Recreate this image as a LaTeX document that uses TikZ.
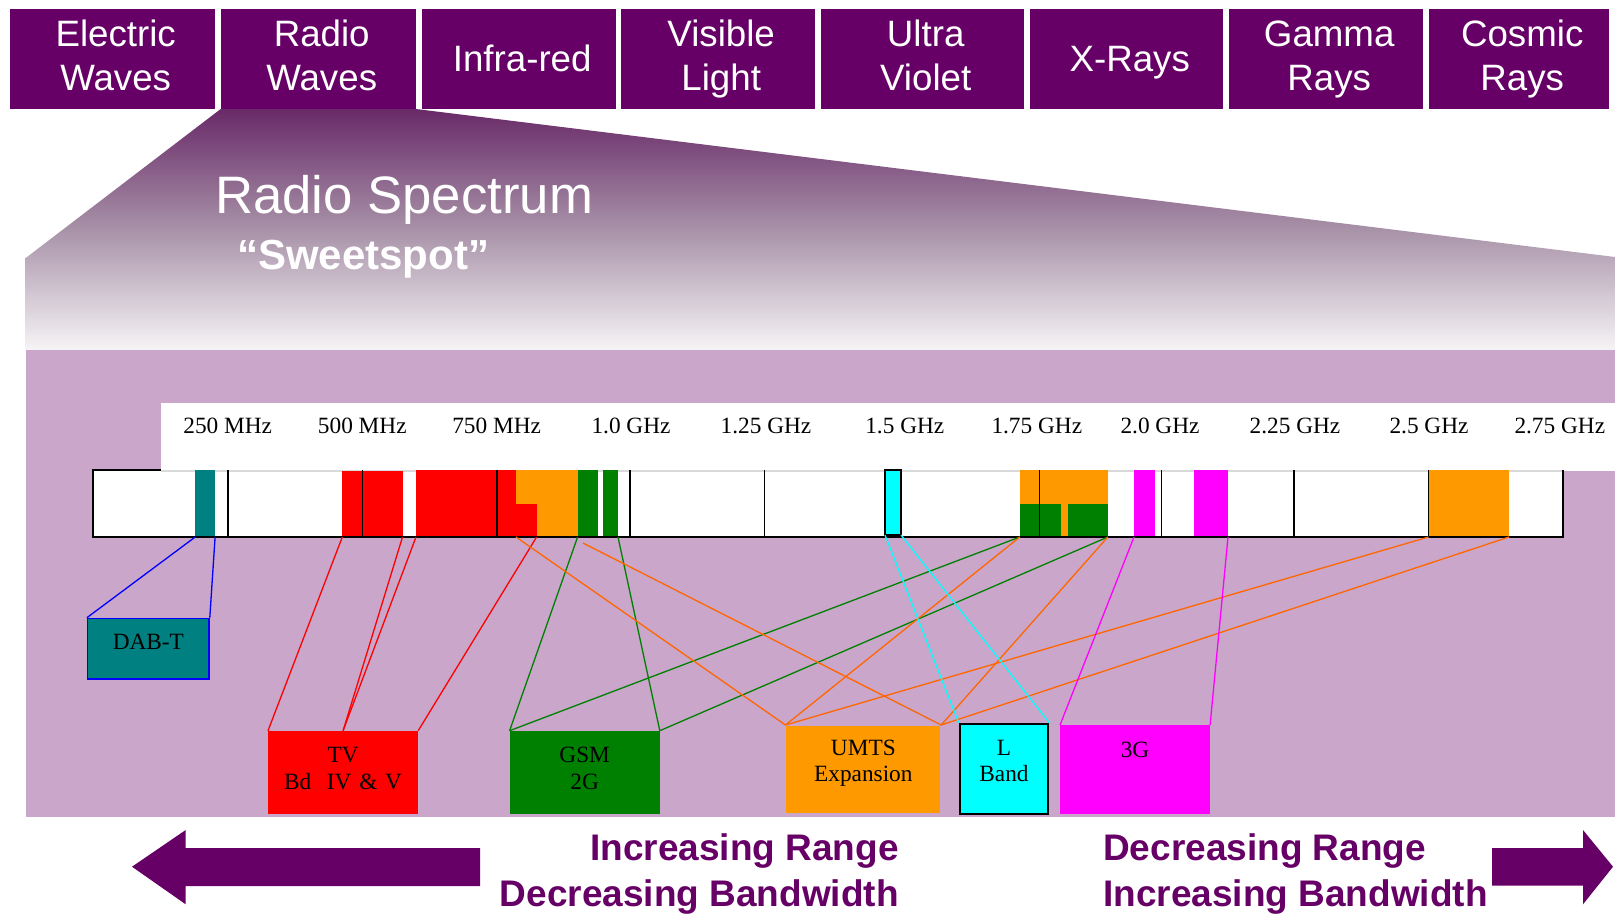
\documentclass[tikz,border=0pt]{standalone}
\usepackage{fontspec}
\setmainfont{Liberation Serif}
\setsansfont{Liberation Sans}

\definecolor{specpurple}{RGB}{102,0,102}
\definecolor{bandlilac}{RGB}{202,166,202}
\definecolor{gradtop}{RGB}{104,42,104}
\definecolor{gradmid}{RGB}{168,146,168}
\definecolor{gradbot}{RGB}{246,244,246}
\definecolor{dabteal}{RGB}{0,128,128}
\definecolor{umtsorange}{RGB}{255,153,0}
\definecolor{lineorange}{RGB}{255,102,0}
\definecolor{gsmgreen}{RGB}{0,128,0}
\definecolor{tvred}{RGB}{255,0,0}
\definecolor{dabblue}{RGB}{0,0,255}
\definecolor{lbandcyan}{RGB}{0,255,255}
\definecolor{tgmagenta}{RGB}{255,0,255}

\tikzset{
	catbox/.style={rectangle, fill=specpurple, inner sep=0pt, anchor=north west, minimum height=100pt},
	cattext/.style={anchor=base, inner sep=0pt, xshift=3pt, text=white, font=\sffamily\fontsize{36.7}{44}\selectfont},
	freqlabel/.style={anchor=base, inner sep=0pt, font=\fontsize{23.3}{27}\selectfont},
	bandbox/.style={rectangle, inner sep=0pt, anchor=north west, line width=1.5pt},
	boxtext/.style={anchor=base, align=center, inner sep=0pt, font=\fontsize{23.3}{26.5}\selectfont},
	link/.style={line width=1.3pt},
	tick/.style={line width=1.8pt},
	rangetext/.style={inner sep=0pt, text=specpurple, font=\sffamily\bfseries\fontsize{37}{46}\selectfont},
}

\begin{document}
\begin{tikzpicture}[x=1pt, y=-1pt]

		\useasboundingbox (0,0) rectangle (1615,914);
		\fill[white] (0,0) rectangle (1615,914);

		% spectre electromagnetique
		\foreach \nm/\xl/\xr in {elec/10/215, radio/221/416, infra/422/616, vis/621/815, uv/821/1024, xray/1030/1223, gamma/1229/1423, cosmic/1429/1609}
			\node[catbox, minimum width={(\xr-\xl)*1pt}] (\nm) at (\xl,9) {};

		\foreach \nm/\la/\lb in {elec/Electric/Waves, radio/Radio/Waves, vis/Visible/Light, uv/Ultra/Violet, gamma/Gamma/Rays, cosmic/Cosmic/Rays} {
			\node[cattext] (\nm-a) at ([yshift=-37.7pt]\nm.north) {\la};
			\node[cattext] (\nm-b) at ([yshift=-81.7pt]\nm.north) {\lb};
		}
		\node[cattext] (infra-a) at ([yshift=-62.5pt]infra.north) {Infra-red};
		\node[cattext] (xray-a) at ([yshift=-62.5pt]xray.north) {X-Rays};

		% zoom sur les ondes radio
		\shade[top color=gradtop, bottom color=gradbot, middle color=gradmid]
			(220.7,109) -- (416,109) -- (1615,257) -- (1615,350)
			-- (25.7,350) -- (25.7,258) -- cycle;

		\node[anchor=base west, inner sep=0pt, text=white, font=\sffamily\fontsize{52.7}{60}\selectfont] (spec) at (215,213) {Radio Spectrum};
		\node[anchor=base west, inner sep=0pt, text=white, font=\sffamily\bfseries\fontsize{42}{48}\selectfont] (sweet) at (237,269) {“Sweetspot”};

		\fill[bandlilac] (25.7,350) rectangle (1615,816.7);

		% echelle des frequences
		\fill[white] (161,403) rectangle (1615,471);
		\foreach \x/\lab [count=\i] in {227.7/250 MHz, 362.3/500 MHz, 496.6/750 MHz, 631/1.0 GHz, 766/1.25 GHz, 904.8/1.5 GHz, 1036.8/1.75 GHz, 1160/2.0 GHz, 1295/2.25 GHz, 1429/2.5 GHz, 1559.8/2.75 GHz}
			\node[freqlabel] (freq\i) at (\x,433.3) {\lab};

		\fill[white] (93.4,470) rectangle (1563,537);
		\draw[gray!30, line width=1.2pt] (161,471) -- (1563,471);

		% bandes occupees
		\fill[dabteal] (195.2,470) rectangle (215.1,537);
		\fill[tvred] (342.2,471) rectangle (402.6,537);
		\fill[tvred] (416,470) rectangle (515.5,537);
		\fill[tvred] (515.5,504) rectangle (536.6,537);
		\fill[umtsorange] (515.5,470) rectangle (577.5,504);
		\fill[umtsorange] (536.6,470) rectangle (577.5,537);
		\fill[gsmgreen] (577.5,470) rectangle (597.8,537);
		\fill[gsmgreen] (603.2,470) rectangle (618.1,537);
		\fill[umtsorange] (1019.8,470) rectangle (1107.8,537);
		\fill[gsmgreen] (1019.8,504) rectangle (1061,537);
		\fill[gsmgreen] (1067.8,504) rectangle (1107.8,537);
		\fill[tgmagenta] (1133.7,470) rectangle (1155.2,537);
		\fill[tgmagenta] (1194,470) rectangle (1227.8,537);
		\fill[umtsorange] (1428.5,470) rectangle (1509,537);

		\foreach \x in {227.7, 362.4, 496.8, 630.3, 764.5, 1039.5, 1161.4, 1294.3, 1428.5}
			\draw[tick] (\x,470) -- (\x,537);

		\filldraw[fill=lbandcyan, draw=black, line width=1.5pt] (885,470) rectangle (901,535);

		\draw[line width=2pt] (161,470) -- (93.4,470) -- (93.4,537) -- (1563,537) -- (1563,470);

		% extremites des liaisons
		\coordinate (dabL) at (195.2,537);
		\coordinate (dabR) at (215.1,537);
		\coordinate (tvA) at (342.3,537);
		\coordinate (tvB) at (402.5,537);
		\coordinate (tvC) at (416,537);
		\coordinate (tvD) at (536.6,537);
		\coordinate (gsmA) at (577.6,537);
		\coordinate (gsmB) at (618,537);
		\coordinate (gsmC) at (1019.8,537);
		\coordinate (gsmD) at (1107.8,537);
		\coordinate (umtsA) at (516,537);
		\coordinate (umtsB) at (583,543);
		\coordinate (umtsC) at (1019.8,537);
		\coordinate (umtsD) at (1107.8,537);
		\coordinate (umtsE) at (1428.5,537);
		\coordinate (umtsF) at (1509,537);
		\coordinate (lbA) at (885,535);
		\coordinate (lbB) at (901,535);
		\coordinate (tgA) at (1134,537);
		\coordinate (tgB) at (1228,537);

		% boites des services
		\node[bandbox, fill=dabteal, draw=dabblue, minimum width=121.4pt, minimum height=60.3pt] (dab) at (86.9,617.7) {};
		\node[bandbox, fill=tvred, draw=tvred, minimum width=148.7pt, minimum height=82pt] (tv) at (268,730.7) {};
		\node[bandbox, fill=gsmgreen, draw=gsmgreen, minimum width=148.7pt, minimum height=82pt] (gsm) at (509.6,730.7) {};
		\node[bandbox, fill=umtsorange, minimum width=154.2pt, minimum height=87.7pt] (umts) at (785.5,725) {};
		\node[bandbox, fill=lbandcyan, draw=black, line width=2pt, minimum width=88.6pt, minimum height=90.6pt] (lband) at (958.7,722.7) {};
		\node[bandbox, fill=tgmagenta, draw=tgmagenta, minimum width=148.6pt, minimum height=87.7pt] (tg) at (1060,725) {};

		% liaisons
		\draw[link, dabblue] (dabL) -- (dab.north west);
		\draw[link, dabblue] (dabR) -- (dab.north east);

		\draw[link, tvred] (tvA) -- (tv.north west);
		\draw[link, tvred] (tvB) -- (tv.north);
		\draw[link, tvred] (tvC) -- (tv.north);
		\draw[link, tvred] (tvD) -- (tv.north east);

		\draw[link, gsmgreen] (gsmA) -- (gsm.north west);
		\draw[link, gsmgreen] (gsmB) -- (gsm.north east);
		\draw[link, gsmgreen] (gsmC) -- (gsm.north west);
		\draw[link, gsmgreen] (gsmD) -- (gsm.north east);

		\draw[link, lineorange] (umtsA) -- (umts.north west);
		\draw[link, lineorange] (umtsB) -- (umts.north east);
		\draw[link, lineorange] (umtsC) -- (umts.north west);
		\draw[link, lineorange] (umtsD) -- (umts.north east);
		\draw[link, lineorange] (umtsE) -- (umts.north west);
		\draw[link, lineorange] (umtsF) -- (umts.north east);

		\draw[link, lbandcyan] (lbA) -- (lband.north west);
		\draw[link, lbandcyan] (lbB) -- (lband.north east);

		\draw[link, tgmagenta] (tgA) -- (tg.north west);
		\draw[link, tgmagenta] (tgB) -- (tg.north east);

		% textes des boites
		\node[boxtext, text width=121.4pt] (dab-t) at ([yshift=-31.6pt]dab.north) {DAB-T};
		\node[boxtext, text width=148.7pt] (tv-t) at ([yshift=-32pt]tv.north) {TV\\Bd~ IV \& V};
		\node[boxtext, text width=148.7pt] (gsm-t) at ([yshift=-32pt]gsm.north) {GSM\\2G};
		\node[boxtext, text width=154.2pt] (umts-t) at ([yshift=-30pt]umts.north) {UMTS\\Expansion};
		\node[boxtext, text width=88.6pt] (lband-t) at ([yshift=-32.3pt]lband.north) {L\\Band};
		\node[boxtext, text width=148.6pt] (tg-t) at ([yshift=-32.3pt]tg.north) {3G};

		% portee et bande passante
		\fill[specpurple] (132,866.7) -- (185.7,830) -- (185.7,848) -- (480,848)
			-- (480,886) -- (185.7,886) -- (185.7,904.3) -- cycle;
		\fill[specpurple] (1613,866.7) -- (1583,830) -- (1583,848) -- (1492,848)
			-- (1492,885.5) -- (1583,885.5) -- (1583,904.3) -- cycle;

		\node[rangetext, anchor=base east] (incr) at (899,860) {Increasing Range};
		\node[rangetext, anchor=base east] (decb) at (899,906) {Decreasing Bandwidth};
		\node[rangetext, anchor=base west] (decr) at (1103,860) {Decreasing Range};
		\node[rangetext, anchor=base west] (incb) at (1103,906) {Increasing Bandwidth};

	\end{tikzpicture}
\end{document}
